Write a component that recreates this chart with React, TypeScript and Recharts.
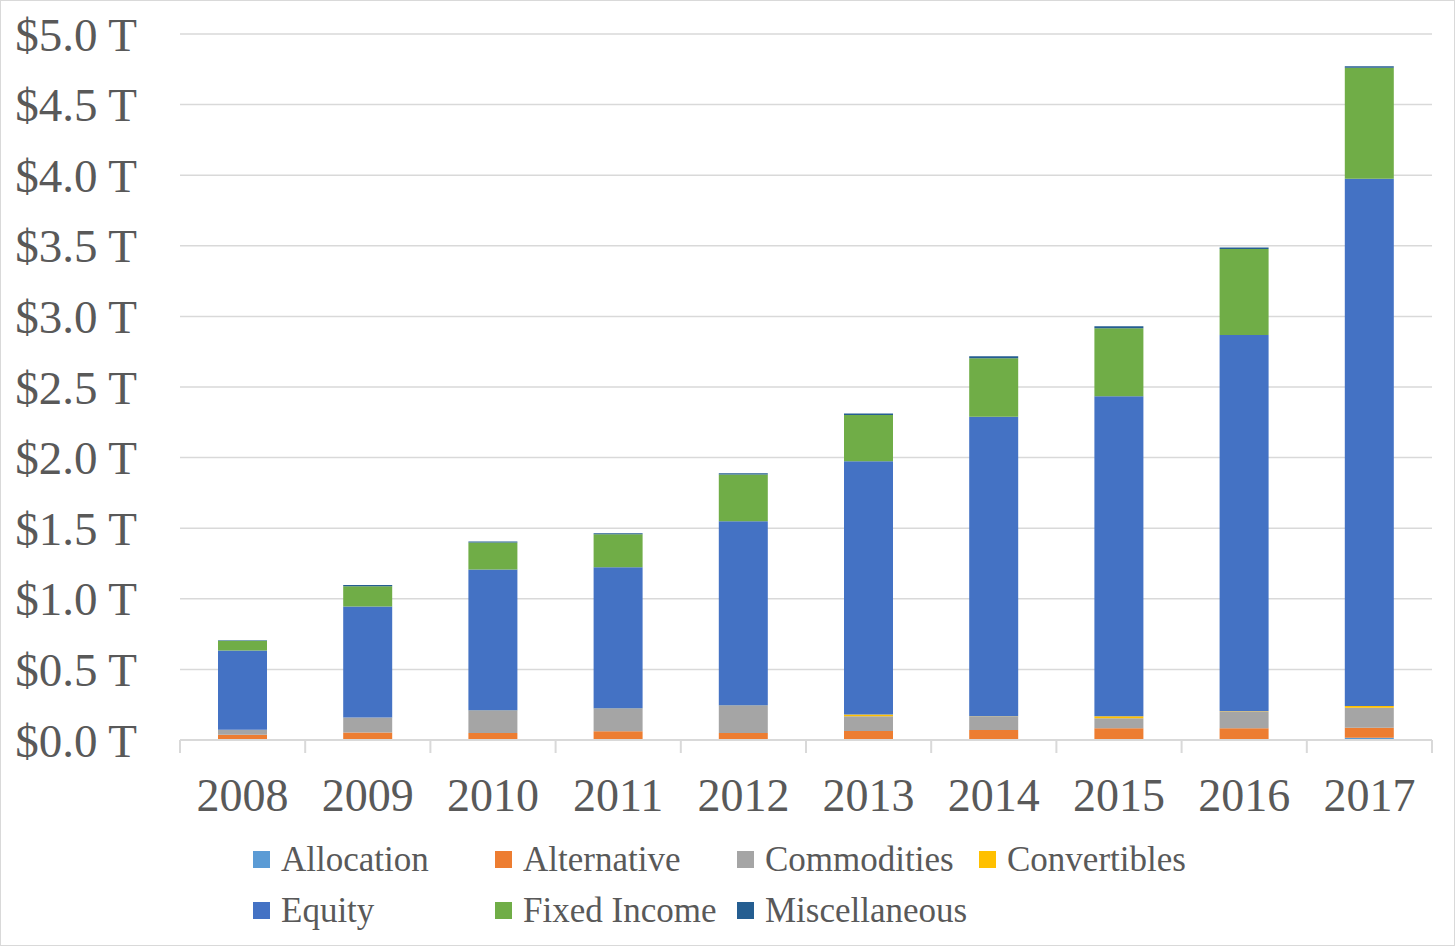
import { BarChart, Bar, XAxis, YAxis, CartesianGrid, Legend } from "recharts"

const years = ["2008", "2009", "2010", "2011", "2012", "2013", "2014", "2015", "2016", "2017"]

// values in $ trillions
const allocation = [0.002, 0.003, 0.003, 0.003, 0.003, 0.004, 0.004, 0.005, 0.006, 0.016]
const alternative = [0.035, 0.05, 0.047, 0.059, 0.047, 0.059, 0.066, 0.078, 0.078, 0.071]
const commodities = [0.035, 0.106, 0.158, 0.16, 0.193, 0.106, 0.097, 0.071, 0.12, 0.142]
const convertibles = [0.001, 0.001, 0.001, 0.001, 0.001, 0.012, 0.002, 0.014, 0.002, 0.012]
const equity = [0.56, 0.786, 0.999, 1.0, 1.306, 1.794, 2.121, 2.266, 2.663, 3.734]
const fixedIncome = [0.07, 0.142, 0.19, 0.234, 0.33, 0.326, 0.414, 0.482, 0.609, 0.786]
const miscellaneous = [0.003, 0.01, 0.007, 0.008, 0.009, 0.012, 0.014, 0.014, 0.01, 0.01]

const yTicks = [0, 0.5, 1, 1.5, 2, 2.5, 3, 3.5, 4, 4.5, 5]

const series = [
  { key: "allocation", name: "Allocation", color: "#5b9bd5", values: allocation },
  { key: "alternative", name: "Alternative", color: "#ed7d31", values: alternative },
  { key: "commodities", name: "Commodities", color: "#a5a5a5", values: commodities },
  { key: "convertibles", name: "Convertibles", color: "#ffc000", values: convertibles },
  { key: "equity", name: "Equity", color: "#4472c4", values: equity },
  { key: "fixedIncome", name: "Fixed Income", color: "#70ad47", values: fixedIncome },
  { key: "miscellaneous", name: "Miscellaneous", color: "#255e91", values: miscellaneous },
]

const data = years.map((year, i) => {
  const row: Record<string, string | number> = { year }
  series.forEach((s) => {
    row[s.key] = s.values[i]
  })
  return row
})

const FONT = "'Liberation Serif', 'Times New Roman', serif"
const TEXT = "#595959"
const GRID = "#d9d9d9"
const X_TICK_MARGIN = 38

const YearTick = (props: any) => {
  const { x, y, payload, index } = props
  const half = payload.offset || 62.6
  const axisY = y - X_TICK_MARGIN
  const last = index === years.length - 1
  return (
    <g>
      <line x1={x - half} x2={x - half} y1={axisY} y2={axisY + 13} stroke={GRID} strokeWidth={2} />
      {last && <line x1={x + half} x2={x + half} y1={axisY} y2={axisY + 13} stroke={GRID} strokeWidth={2} />}
      <text x={x} y={y} dy="0.71em" textAnchor="middle" fill={TEXT} fontSize={46} fontFamily={FONT}>
        {payload.value}
      </text>
    </g>
  )
}

const renderLegend = (props: any) => {
  const { payload } = props
  return (
    <div style={{ display: "flex", flexWrap: "wrap", width: 980 }}>
      {payload.map((entry: any) => (
        <div key={entry.value} style={{ width: 242, height: 51, display: "flex", alignItems: "center" }}>
          <div style={{ width: 17, height: 17, background: entry.color, marginRight: 11 }} />
          <span style={{ fontFamily: FONT, fontSize: 35, color: TEXT, whiteSpace: "nowrap" }}>{entry.value}</span>
        </div>
      ))}
    </div>
  )
}

export default function App() {
  return (
    <div style={{ position: "absolute", left: 0, top: 0, width: 1455, height: 946, background: "#fff" }}>
      <BarChart width={1455} height={946} data={data} margin={{ top: 34, right: 23, left: 0, bottom: 126 }}>
        <CartesianGrid vertical={false} stroke={GRID} strokeWidth={1.5} />
        <XAxis
          dataKey="year"
          height={80}
          axisLine={{ stroke: GRID, strokeWidth: 2 }}
          tickLine={false}
          tickSize={0}
          tickMargin={X_TICK_MARGIN}
          tick={<YearTick />}
          interval={0}
        />
        <YAxis
          width={180}
          domain={[0, 5]}
          ticks={yTicks}
          axisLine={false}
          tickLine={false}
          tickSize={0}
          tickMargin={43}
          tickFormatter={(v: number) => `$${v.toFixed(1)} T`}
          tick={{ fill: TEXT, fontSize: 47, fontFamily: FONT }}
        />
        <Legend
          verticalAlign="middle"
          align="center"
          content={renderLegend}
          wrapperStyle={{ left: 253, top: 834, width: 980 }}
        />
        {series.map((s) => (
          <Bar
            key={s.key}
            dataKey={s.key}
            name={s.name}
            stackId="a"
            fill={s.color}
            barSize={49}
            isAnimationActive={false}
          />
        ))}
      </BarChart>
      <div
        style={{
          position: "absolute",
          left: 0,
          top: 0,
          width: 1455,
          height: 946,
          boxSizing: "border-box",
          border: "1px solid #d9d9d9",
          pointerEvents: "none",
        }}
      />
    </div>
  )
}
